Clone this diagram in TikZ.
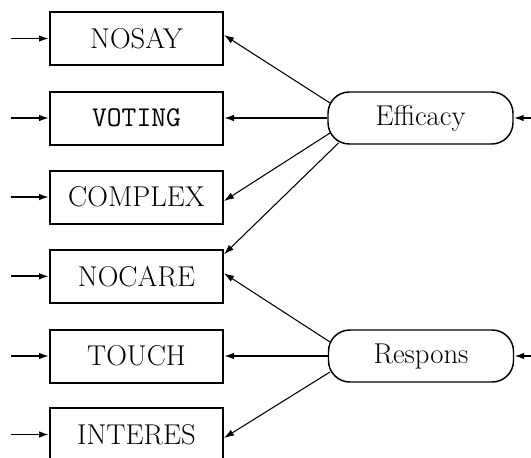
\documentclass[tikz,border=0pt]{standalone}
\usetikzlibrary{calc,arrows.meta}
\begin{document}
\begin{tikzpicture}[x=0.75pt,y=-0.75pt,
  obs/.style={draw,line width=1.5pt,minimum width=129.75pt,minimum height=39.75pt,inner sep=0pt,font=\fontsize{21.5}{24}\selectfont},
  lat/.style={draw,line width=1.1pt,rounded corners=16pt,minimum width=138.75pt,minimum height=39pt,inner sep=0pt,font=\fontsize{21.5}{24}\selectfont},
  thick arr/.style={line width=1.3pt,-{Latex[length=7.5pt,width=5pt]}},
  thin arr/.style={line width=0.8pt,-{Latex[length=7.5pt,width=5pt]}}]
\useasboundingbox (0,0) rectangle (531,457);
\node[obs] (nosay) at (136.5,38.5) {NOSAY};
\node[obs] (voting) at (136.5,118) {\ttfamily VOTING};
\node[obs] (complex) at (136.5,197) {COMPLEX};
\node[obs] (nocare) at (136.5,276.3) {NOCARE};
\node[obs] (touch) at (136.5,356) {TOUCH};
\node[obs] (interes) at (136.5,434.5) {INTERES};
\node[lat] (eff) at (420.5,118) {Efficacy};
\node[lat] (resp) at (421,356) {Respons};
% left inputs
\foreach \n in {nosay,voting,complex,nocare,touch,interes}{
  \coordinate (in-\n) at ($(\n.west)+(-38,0)$);
  \draw[thick arr] (in-\n) -- (\n.west);
}
% right inputs
\coordinate (ineff) at (531,118);
\coordinate (inresp) at (531,356);
\draw[thick arr] (ineff) -- (eff.east);
\draw[thick arr] (inresp) -- (resp.east);
% efficacy loadings
\draw[thin arr] ($(eff.center)+(-90.5,-15)$) -- ($(nosay.east)+(0,-3.5)$);
\draw[thick arr] (eff.west) -- (voting.east);
\draw[thin arr] ($(eff.center)+(-90.5,15)$) -- ($(complex.east)+(0,4)$);
\draw[thin arr] ($(eff.center)+(-82,25)$) -- ($(nocare.east)+(0,-22)$);
% respons loadings
\draw[thin arr] ($(resp.center)+(-91,-14)$) -- ($(nocare.east)+(0,-3)$);
\draw[thick arr] (resp.west) -- (touch.east);
\draw[thin arr] ($(resp.center)+(-91,16)$) -- ($(interes.east)+(0,3.5)$);
\end{tikzpicture}
\end{document}
